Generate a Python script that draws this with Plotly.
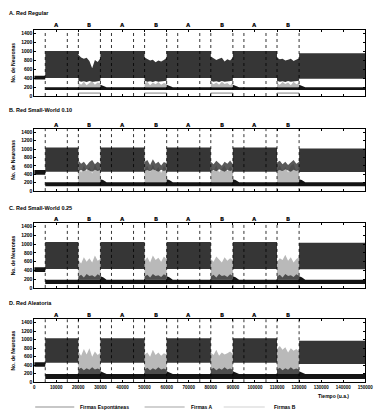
import plotly.graph_objects as go

# ---------------- data ----------------
X_MAX = 150000
Y_MAX = 1475
x_ticks = [0, 10000, 20000, 30000, 40000, 50000, 60000, 70000, 80000,
           90000, 100000, 110000, 120000, 130000, 140000, 150000]
x_tick_labels = ["0", "10000", "20000", "30000", "40000", "50000", "60000", "70000",
                 "80000", "90000", "100000", "110000", "120000", "130000", "140000", "150000"]
y_ticks = [0, 200, 400, 600, 800, 1000, 1200, 1400]
y_tick_labels = ["0", "200", "400", "600", "800", "1000", "1200", "1400"]

window_edges = [5000, 15000, 20000, 30000, 35000, 45000, 50000, 60000,
                65000, 75000, 80000, 90000, 95000, 105000, 110000, 120000]
phase_labels = ["A", "B", "A", "B", "A", "B", "A", "B"]
a_segments = [[5000, 20000], [30000, 50000], [60000, 80000], [90000, 110000]]
last_segment = [120000, 150000]
b_windows = [[20000, 30000], [50000, 60000], [80000, 90000], [110000, 120000]]
b_offsets = [0, 1250, 2500, 3750, 5000, 6250, 7500, 8750, 10000]

panel_titles = ["A. Red Regular", "B. Red Small-World 0.10",
                "C. Red Small-World 0.25", "D. Red Aleatoria"]

# pre-stimulus block (0 - 5000)
pre_x = [0, 5000]
pre_lo = [365, 390, 365, 366]
pre_hi = [453, 500, 470, 467]
# spontaneous firing band (5000 - end)
spont_lo = [131, 118, 91, 77]
spont_hi = [197, 213, 189, 194]
spont_bump_hi = [250, 283, 265, 255]
# pattern A band in the A phases
a_lo = [402, 463, 432, 455]
a_hi = [1000, 1035, 1050, 1030]
a_last_lo = [385, 455, 425, 430]
a_last_hi = [955, 1015, 1030, 975]

# Panel A (regular) during the B windows
reg_dark_top_B = [[920, 860, 830, 850, 780, 620, 800, 760, 840],
                  [860, 820, 790, 810, 750, 790, 770, 800, 850],
                  [880, 840, 800, 830, 850, 770, 820, 790, 860],
                  [850, 820, 830, 790, 810, 830, 780, 810, 840]]
reg_dark_lo_B = [340, 320, 330, 310, 335, 320, 315, 330, 340]
reg_light_top_B = [[300, 250, 320, 240, 290, 330, 250, 300, 280],
                   [280, 320, 240, 300, 260, 310, 250, 290, 270],
                   [310, 260, 300, 250, 320, 270, 290, 240, 300],
                   [290, 250, 310, 270, 300, 240, 320, 260, 290]]
reg_low_light = [45, 85]

# Panel B (small-world 0.10)
sw10_dark_top_B = [[730, 650, 700, 610, 690, 740, 640, 700, 650],
                   [690, 740, 620, 760, 650, 700, 610, 690, 660],
                   [700, 640, 720, 660, 600, 700, 650, 730, 640],
                   [680, 720, 640, 700, 620, 690, 740, 650, 700]]
sw10_dark_lo_B = [480, 500, 470, 520, 490, 460, 510, 480, 500]
sw10_light_top_B = [[560, 440, 620, 480, 580, 420, 640, 500, 560],
                    [520, 600, 450, 640, 480, 580, 430, 600, 520],
                    [580, 480, 620, 450, 540, 610, 470, 590, 500],
                    [500, 620, 460, 580, 440, 600, 650, 480, 560]]

# Panel C (small-world 0.25)
sw25_light_top_B = [[640, 560, 700, 600, 680, 580, 740, 620, 660],
                    [620, 700, 580, 740, 640, 690, 600, 720, 650],
                    [660, 600, 720, 640, 580, 700, 620, 680, 640],
                    [600, 680, 640, 760, 620, 700, 580, 660, 700]]
sw25_dark_top_B = [260, 300, 240, 320, 270, 290, 250, 310, 270]

# Panel D (random)
rnd_light_top_B = [[720, 620, 780, 650, 800, 600, 720, 640, 690],
                   [650, 700, 600, 760, 640, 700, 620, 680, 650],
                   [700, 640, 760, 620, 700, 650, 680, 720, 660],
                   [780, 850, 760, 820, 700, 800, 740, 780, 720]]
rnd_dark_top_B = [300, 340, 280, 330, 290, 350, 300, 320, 290]

legend_names = ["Firmas Espontáneas", "Firmas A", "Firmas B"]

# ---------------- styles ----------------
C_SPONT = "#141414"
C_A = "#363636"
C_A_MIX = "rgba(54,54,54,0.82)"
C_B = "#b9b9b9"
FONT = "Liberation Sans"

W, H = 387, 416
x_domain = [34 / W, 373 / W]
y_domains = [[1 - 96.7 / H, 1 - 30 / H], [1 - 192.5 / H, 1 - 130 / H],
             [1 - 290 / H, 1 - 225 / H], [1 - 385 / H, 1 - 321.7 / H]]
title_px = [13, 111, 210, 305]


def add_band(path_x, path_y, xs, lo, hi):
    xs = list(xs)
    lo = list(lo)
    hi = list(hi)
    path_x += xs + xs[::-1] + [xs[0], None]
    path_y += hi + lo[::-1] + [hi[0], None]


def bx(win):
    return [win[0] + o for o in b_offsets]


fig = go.Figure()

for p in range(4):
    xa = "x" if p == 0 else f"x{p + 1}"
    ya = "y" if p == 0 else f"y{p + 1}"

    # ---- Firmas B (light grey) ----
    lbx, lby = [], []
    for k, win in enumerate(b_windows):
        xs = bx(win)
        if p == 0:
            add_band(lbx, lby, xs, [spont_hi[p]] * 9, reg_light_top_B[k])
            add_band(lbx, lby, xs, [reg_low_light[0]] * 9, [reg_low_light[1]] * 9)
        elif p == 1:
            add_band(lbx, lby, xs, [spont_hi[p]] * 9, sw10_light_top_B[k])
        elif p == 2:
            add_band(lbx, lby, xs, [spont_hi[p]] * 9, sw25_light_top_B[k])
        else:
            add_band(lbx, lby, xs, [spont_hi[p]] * 9, rnd_light_top_B[k])
    fig.add_trace(go.Scatter(x=lbx, y=lby, mode="lines", fill="toself",
                             fillcolor=C_B, line=dict(width=0, color=C_B),
                             name=legend_names[2], showlegend=False,
                             hoverinfo="skip", xaxis=xa, yaxis=ya))

    # ---- Firmas A (dark) ----
    dax, day = [], []
    for seg in a_segments:
        add_band(dax, day, seg, [a_lo[p]] * 2, [a_hi[p]] * 2)
    add_band(dax, day, last_segment, [a_last_lo[p]] * 2, [a_last_hi[p]] * 2)
    if p == 0:
        for k, win in enumerate(b_windows):
            add_band(dax, day, bx(win), reg_dark_lo_B, reg_dark_top_B[k])
    fig.add_trace(go.Scatter(x=dax, y=day, mode="lines", fill="toself",
                             fillcolor=C_A, line=dict(width=0, color=C_A),
                             name=legend_names[1], showlegend=False,
                             hoverinfo="skip", xaxis=xa, yaxis=ya))
    if p > 0:
        mx, my = [], []
        for k, win in enumerate(b_windows):
            xs = bx(win)
            if p == 1:
                add_band(mx, my, xs, sw10_dark_lo_B, sw10_dark_top_B[k])
            elif p == 2:
                add_band(mx, my, xs, [spont_hi[p]] * 9, sw25_dark_top_B)
            else:
                add_band(mx, my, xs, [spont_hi[p]] * 9, rnd_dark_top_B)
        fig.add_trace(go.Scatter(x=mx, y=my, mode="lines", fill="toself",
                                 fillcolor=C_A_MIX, line=dict(width=0, color=C_A_MIX),
                                 name=legend_names[1], showlegend=False,
                                 hoverinfo="skip", xaxis=xa, yaxis=ya))

    # ---- Firmas Espontaneas (black) ----
    sx, sy = [], []
    add_band(sx, sy, pre_x, [pre_lo[p]] * 2, [pre_hi[p]] * 2)
    add_band(sx, sy, [pre_x[1], X_MAX], [spont_lo[p]] * 2, [spont_hi[p]] * 2)
    for win in b_windows:
        add_band(sx, sy, [win[1], win[1] + 1200, win[1] + 2800],
                 [spont_hi[p]] * 3, [spont_bump_hi[p], spont_bump_hi[p] - 20, spont_hi[p]])
    fig.add_trace(go.Scatter(x=sx, y=sy, mode="lines", fill="toself",
                             fillcolor=C_SPONT, line=dict(width=0, color=C_SPONT),
                             name=legend_names[0], showlegend=False,
                             hoverinfo="skip", xaxis=xa, yaxis=ya))

    # ---- axes ----
    axis_common = dict(showgrid=False, zeroline=False, showline=True,
                       linecolor="black", linewidth=0.8, mirror="ticks",
                       ticks="inside", ticklen=2, tickwidth=0.6, tickcolor="black")
    fig.layout[f"xaxis{'' if p == 0 else p + 1}"] = dict(
        domain=x_domain, range=[0, X_MAX], anchor=ya,
        tickvals=x_ticks, ticktext=x_tick_labels, showticklabels=(p == 3),
        tickfont=dict(family=FONT, size=4.5, color="black", weight="bold"),
        **axis_common)
    fig.layout[f"yaxis{'' if p == 0 else p + 1}"] = dict(
        domain=y_domains[p], range=[0, Y_MAX], anchor=xa,
        tickvals=y_ticks, ticktext=y_tick_labels,
        tickfont=dict(family=FONT, size=5, color="black", weight="bold"),
        **axis_common)

    # dotted window edges
    for e in window_edges:
        fig.add_shape(type="line", xref=xa, yref=f"{ya} domain", x0=e, x1=e,
                      y0=0, y1=1, line=dict(color="black", width=0.8, dash="dot"))
    # phase labels
    for k, lab in enumerate(phase_labels):
        fig.add_annotation(xref=xa, yref=f"{ya} domain", x=window_edges[2 * k] + 5000,
                           y=1, yanchor="bottom", yshift=0.5, text="<b>" + lab + "</b>",
                           showarrow=False, borderpad=0,
                           font=dict(family="DejaVu Sans", size=5.5, color="black"))
    # panel title
    fig.add_annotation(xref="paper", yref="paper", x=7 / W, y=1 - title_px[p] / H,
                       xanchor="left", yanchor="middle", text=panel_titles[p],
                       showarrow=False, borderpad=0,
                       font=dict(family=FONT, size=5.5, color="black", weight="bold"))
    # y title
    fig.add_annotation(xref="paper", yref="paper", x=12 / W,
                       y=(y_domains[p][0] + y_domains[p][1]) / 2,
                       xanchor="center", yanchor="middle", text="No. de Neuronas",
                       textangle=-90, showarrow=False, borderpad=0,
                       font=dict(family=FONT, size=5, color="black", weight="bold"))

# x title
fig.add_annotation(xref="paper", yref="paper", x=340 / W, y=1 - 399 / H,
                   xanchor="center", yanchor="middle", text="Tiempo (u.a.)",
                   showarrow=False, borderpad=0,
                   font=dict(family=FONT, size=5, color="black", weight="bold"))

# legend (drawn)
leg_y = 1 - 410 / H
leg_lines = [[35, 75], [147, 188], [228, 270]]
leg_text_x = [80, 193, 278]
leg_colors = ["#b5b5b5", "#c2c2c2", "#e0e0e0"]
for k in range(3):
    fig.add_shape(type="line", xref="paper", yref="paper",
                  x0=leg_lines[k][0] / W, x1=leg_lines[k][1] / W, y0=leg_y, y1=leg_y,
                  line=dict(color=leg_colors[k], width=1.6))
    fig.add_annotation(xref="paper", yref="paper", x=leg_text_x[k] / W, y=leg_y,
                       xanchor="left", yanchor="middle", text=legend_names[k],
                       showarrow=False, borderpad=0,
                       font=dict(family=FONT, size=5, color="black", weight="bold"))

fig.update_layout(width=W, height=H, margin=dict(l=0, r=0, t=0, b=0),
                  paper_bgcolor="white", plot_bgcolor="white", showlegend=False)

fig.write_html("out.html", config={"displayModeBar": False},
               post_script="document.body.style.margin='0px';document.body.style.overflow='hidden';")
